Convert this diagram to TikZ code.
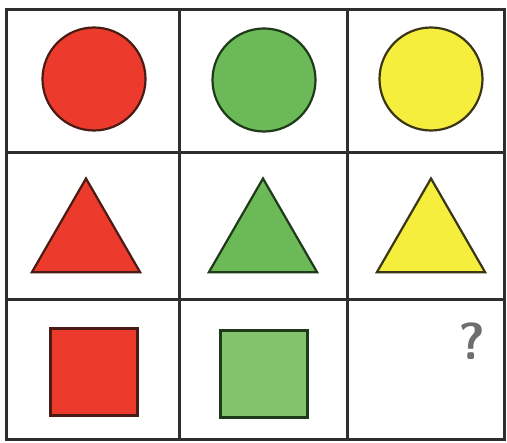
\documentclass[tikz,border=0pt]{standalone}
\usepackage{xcolor}
\usepackage{tikz}
\usetikzlibrary{shapes.geometric}
\definecolor{GridInk}{HTML}{2E2E2E}
\definecolor{TileRed}{HTML}{EC3A2C}
\definecolor{TileRedEdge}{HTML}{4A1A14}
\definecolor{TileGreen}{HTML}{6CB957}
\definecolor{TileGreenLight}{HTML}{82C46C}
\definecolor{TileGreenEdge}{HTML}{1F3A1A}
\definecolor{TileYellow}{HTML}{F6EE3C}
\definecolor{TileYellowEdge}{HTML}{3A3514}
\definecolor{QuestGrey}{HTML}{6E6E6E}

\begin{document}
\begin{tikzpicture}[x=1pt,y=-1pt]
  \path[use as bounding box,fill=white] (0,0) rectangle (507,443);
  \tikzset{
    tileShape/.style={
      inner sep=0pt, outer sep=0pt, line width=2.2pt
    },
    tileCircle/.style={tileShape, circle, minimum size=103pt},
    tileTriangle/.style={tileShape, regular polygon, regular polygon sides=3,
      minimum size=125pt},
    tileSquare/.style={tileShape, rectangle, minimum size=87pt},
    tileRed/.style={fill=TileRed, draw=TileRedEdge},
    tileGreen/.style={fill=TileGreen, draw=TileGreenEdge},
    tileYellow/.style={fill=TileYellow, draw=TileYellowEdge},
    gridLine/.style={draw=GridInk, line width=3pt}
  }

  % grid
  \draw[gridLine] (6,10) rectangle (504,440);
  \draw[gridLine] (179,10) -- (179,440);
  \draw[gridLine] (347,10) -- (347,440);
  \draw[gridLine] (6,153) -- (504,153);
  \draw[gridLine] (6,300) -- (504,300);

  % row 1: circles
  \node[tileCircle,tileRed] (redCircle) at (94,79) {};
  \node[tileCircle,tileGreen] (greenCircle) at (264,80) {};
  \node[tileCircle,tileYellow] (yellowCircle) at (431,79) {};

  % row 2: triangles
  \node[tileTriangle,tileRed] (redTriangle) at (86,241) {};
  \node[tileTriangle,tileGreen] (greenTriangle) at (263,241) {};
  \node[tileTriangle,tileYellow] (yellowTriangle) at (431,241) {};

  % row 3: squares and the open cell
  \node[tileSquare,tileRed] (redSquare) at (94,372) {};
  \node[tileSquare,fill=TileGreenLight,draw=TileGreenEdge] (greenSquare) at (264,374) {};
  \node[font=\sffamily\bfseries\fontsize{52}{52}\selectfont,text=QuestGrey] (question) at (472,341) {?};
\end{tikzpicture}
\end{document}
